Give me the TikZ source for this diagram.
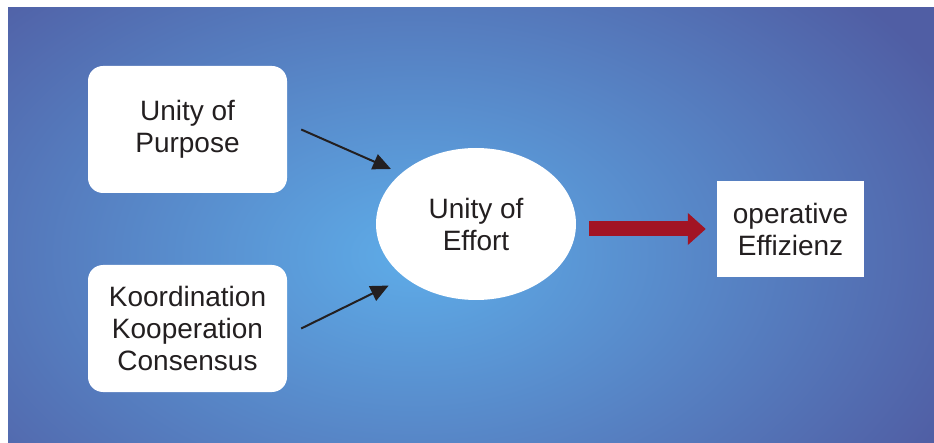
\documentclass[tikz,border=0pt]{standalone}
\usepackage{fontspec}
\setmainfont{Liberation Sans}
\usepackage{xcolor}
\usepackage{tikz}
\usetikzlibrary{arrows.meta, positioning, shapes.geometric}

\definecolor{hellblau}{RGB}{94,172,232}
\definecolor{dunkelblau}{RGB}{80,94,164}
\definecolor{tinte}{RGB}{35,31,32}
\definecolor{weinrot}{RGB}{162,20,36}

\begin{document}
\begin{tikzpicture}[
    x=1pt, y=-1pt,
    font=\fontsize{28}{32}\selectfont,
    kotak/.style={fill=white, rounded corners=15pt, minimum width=199pt,
                  minimum height=127pt, align=center, text=tinte, inner sep=0pt},
    oval/.style={ellipse, fill=white, minimum width=200pt, minimum height=152pt,
                 align=center, text=tinte, inner sep=0pt},
    ziel/.style={fill=white, minimum width=147pt, minimum height=96pt,
                 align=center, text=tinte, inner sep=0pt},
    panah/.style={-{Triangle[length=18pt, width=16pt]}, line width=2pt, tinte},
    blockpfeil/.style={-{Triangle[length=18pt, width=31pt]}, line width=15pt, weinrot}
  ]
    \useasboundingbox (0,0) rectangle (934,443);
    \fill[white] (0,0) rectangle (934,443);
    \begin{scope}
      \clip (8,8) rectangle (934,443);
      \shade[inner color=hellblau, outer color=dunkelblau] (-180,-130) rectangle (1010,640);
    \end{scope}

    \node[kotak] (purpose) at (187.5,129.5) {Unity of\\Purpose};
    \node[kotak] (koord) at (187.5,328.5) {Koordination\\Kooperation\\Consensus};
    \node[oval] (effort) at (476,224) {Unity of\\Effort};
    \node[ziel] (effizienz) at (790.5,229) {operative\\Effizienz};

    \draw[panah, shorten >=11pt] ([xshift=14pt]purpose.east) -- (effort.146.6);
    \draw[panah, shorten >=18pt] ([xshift=14pt]koord.east) -- (effort.217.4);
    \draw[blockpfeil, shorten <=13pt, shorten >=11pt] (effort.east |- effizienz.west) -- (effizienz.west);
  \end{tikzpicture}
\end{document}
